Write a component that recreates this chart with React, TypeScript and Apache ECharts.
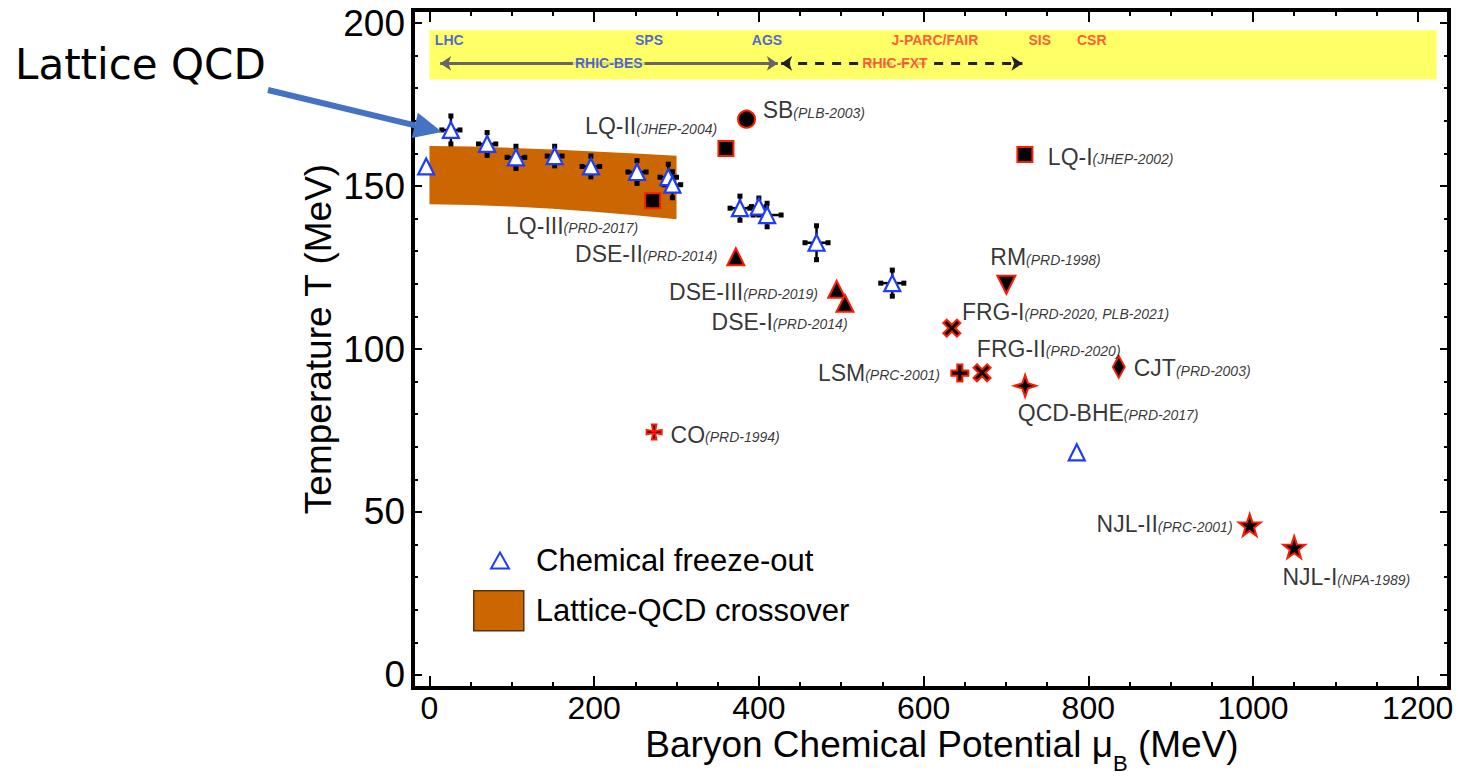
import { useEffect, useRef } from 'react';
import * as echarts from 'echarts';

const FONT = "'Liberation Sans', Arial, Helvetica, sans-serif";

// ---------- axes ----------
const X_MIN = -20;
const X_MAX = 1238;
const Y_MIN = -4;
const Y_MAX = 204;
const xMajorTicks = [0, 200, 400, 600, 800, 1000, 1200];
const xMinorTicks = [50, 100, 150, 250, 300, 350, 450, 500, 550, 650, 700, 750, 850, 900, 950, 1050, 1100, 1150];
const yMajorTicks = [0, 50, 100, 150, 200];
const yMinorTicks = [10, 20, 30, 40, 60, 70, 80, 90, 110, 120, 130, 140, 160, 170, 180, 190];

// ---------- chemical freeze-out ----------
const fzMu = [-4, 26, 70, 105, 152, 196, 252, 290, 295, 377, 400, 410, 470, 562, 786];
const fzT = [156, 167.2, 162.9, 158.8, 159.2, 156.0, 154.3, 152.7, 150.4, 143.2, 143.7, 141.1, 132.6, 120.2, 68.3];
const fzErrMu = [0, 11, 10.5, 10.7, 9, 10.7, 11, 10, 10, 12, 9, 17, 14, 14, 0];
const fzErrT = [0, 4.3, 3.5, 3.4, 3, 3.2, 3.5, 4, 4, 3.7, 2.6, 3.6, 5.2, 4, 0];

// ---------- lattice QCD crossover band ----------
const bandMu = [0, 50, 100, 150, 200, 250, 300];
const bandUpper = [162.3, 162.1, 161.7, 161.2, 160.6, 160.0, 159.3];
const bandLower = [144.4, 144.2, 143.7, 143.0, 142.1, 141.0, 139.8];

// ---------- model predictions ----------
const modelNames = ['LQ-II', 'LQ-III', 'LQ-I', 'SB', 'DSE-II', 'DSE-III', 'DSE-I', 'RM', 'FRG-I', 'FRG-II', 'LSM', 'QCD-BHE', 'CJT', 'CO', 'NJL-II', 'NJL-I'];
const modelRefs = ['JHEP-2004', 'PRD-2017', 'JHEP-2002', 'PLB-2003', 'PRD-2014', 'PRD-2019', 'PRD-2014', 'PRD-1998', 'PRD-2020, PLB-2021', 'PRD-2020', 'PRC-2001', 'PRD-2017', 'PRD-2003', 'PRD-1994', 'PRC-2001', 'NPA-1989'];
const modelMu = [360, 271, 723, 385, 372, 494.5, 504.5, 700.5, 634.3, 671, 644, 723.3, 837, 272.8, 996, 1050];
const modelT = [161.5, 145.5, 159.7, 170.5, 128.3, 118.3, 114, 119.7, 106.4, 92.7, 92.6, 88.7, 94.5, 74.5, 46, 39.2];
const modelShape = ['square', 'square', 'square', 'circle', 'triangle', 'triangle', 'triangle', 'down', 'cross', 'cross', 'plus', 'sparkle', 'diamond', 'pattee', 'star', 'star'];
const labelMu = [189, 93, 750.9, 404.6, 176.8, 290.9, 342.5, 681, 646.5, 664.7, 471.7, 714.4, 855.2, 292.7, 810, 1035.7];
const labelT = [168.3, 137.8, 159.0, 173.2, 129.2, 117.5, 108.3, 128.2, 111.5, 100.1, 92.7, 80.5, 94.1, 73.7, 46.2, 29.9];

// ---------- facilities banner ----------
const bannerMu = [0, 1223];
const bannerT = [182.7, 197.8];
const facilityNames = ['LHC', 'SPS', 'AGS', 'J-PARC/FAIR', 'SIS', 'CSR'];
const facilityMu = [24, 266.6, 409.8, 613.7, 741.1, 804.2];
const facilityGroup = ['bes', 'bes', 'bes', 'fxt', 'fxt', 'fxt'];
const facilityT = 194.9;
const programNames = ['RHIC-BES', 'RHIC-FXT'];
const programGroup = ['bes', 'fxt'];
const programStart = [13, 427];
const programEnd = [423, 720];
const programLabelMu = [217.7, 565.2];
const programT = 187.6;

const GROUP_COLOR: Record<string, string> = { bes: '#1f3fe6', fxt: '#ff3030' };

const SHAPES: Record<string, { symbol: string; size: number | number[]; rotate?: number }> = {
  square: { symbol: 'rect', size: 15 },
  circle: { symbol: 'circle', size: 17 },
  triangle: { symbol: 'triangle', size: 17 },
  down: { symbol: 'triangle', size: 18, rotate: 180 },
  cross: { symbol: 'path://M4,0 L10,6 L16,0 L20,4 L14,10 L20,16 L16,20 L10,14 L4,20 L0,16 L6,10 L0,4 Z', size: 17 },
  plus: { symbol: 'path://M7,0 H13 V7 H20 V13 H13 V20 H7 V13 H0 V7 H7 Z', size: 17 },
  sparkle: { symbol: 'path://M10,0 L12.5,7.5 L20,10 L12.5,12.5 L10,20 L7.5,12.5 L0,10 L7.5,7.5 Z', size: 22 },
  diamond: { symbol: 'diamond', size: [12, 22] },
  pattee: { symbol: 'path://M7,0 H13 L11.2,8.8 L20,7 V13 L11.2,11.2 L13,20 H7 L8.8,11.2 L0,13 V7 L8.8,8.8 Z', size: 15 },
  star: { symbol: 'path://M10,0 L12.35,6.76 L19.51,6.91 L13.8,11.24 L15.88,18.09 L10,14 L4.12,18.09 L6.2,11.24 L0.49,6.91 L7.65,6.76 Z', size: 22 },
};

function buildOption(): any {
  const tickLine = { color: '#000', width: 2 };
  const xBase = { type: 'value', min: X_MIN, max: X_MAX, splitLine: { show: false }, axisLine: { show: false, onZero: false } };
  const yBase = { type: 'value', min: Y_MIN, max: Y_MAX, splitLine: { show: false }, axisLine: { show: false, onZero: false } };

  const xAxis = [
    { ...xBase, position: 'bottom', axisLabel: { customValues: xMajorTicks, formatter: (v: number) => String(v), fontSize: 32, fontFamily: FONT, color: '#000', margin: 4 }, axisTick: { customValues: xMajorTicks, inside: true, length: 12, lineStyle: tickLine } },
    { ...xBase, position: 'bottom', axisLabel: { show: false }, axisTick: { customValues: xMinorTicks, inside: true, length: 6, lineStyle: tickLine } },
    { ...xBase, position: 'top', axisLabel: { show: false }, axisTick: { customValues: xMajorTicks, inside: true, length: 12, lineStyle: tickLine } },
    { ...xBase, position: 'top', axisLabel: { show: false }, axisTick: { customValues: xMinorTicks, inside: true, length: 6, lineStyle: tickLine } },
  ];
  const yAxis = [
    { ...yBase, position: 'left', axisLabel: { customValues: yMajorTicks, formatter: (v: number) => String(v), fontSize: 37, fontFamily: FONT, color: '#000', margin: 8 }, axisTick: { customValues: yMajorTicks, inside: true, length: 9, lineStyle: tickLine } },
    { ...yBase, position: 'left', axisLabel: { show: false }, axisTick: { customValues: yMinorTicks, inside: true, length: 5, lineStyle: tickLine } },
    { ...yBase, position: 'right', axisLabel: { show: false }, axisTick: { customValues: yMajorTicks, inside: true, length: 9, lineStyle: tickLine } },
    { ...yBase, position: 'right', axisLabel: { show: false }, axisTick: { customValues: yMinorTicks, inside: true, length: 5, lineStyle: tickLine } },
  ];

  const modelData = modelNames.map((n, i) => {
    const s = SHAPES[modelShape[i]];
    return { name: n, value: [modelMu[i], modelT[i]], symbol: s.symbol, symbolSize: s.size, symbolRotate: s.rotate || 0 };
  });

  const errData = fzMu
    .map((m, i) => [m, fzT[i], fzErrMu[i], fzErrT[i]])
    .filter((d) => d[2] > 0 || d[3] > 0);

  const facilityData = facilityNames.map((n, i) => ({
    name: n,
    value: [facilityMu[i], facilityT],
    label: { color: GROUP_COLOR[facilityGroup[i]] },
  }));
  const programData = programNames.map((n, i) => ({
    name: n,
    value: [programLabelMu[i], programT],
    label: { color: GROUP_COLOR[programGroup[i]] },
  }));

  const labelData = modelNames.map((n, i) => ({ name: n, value: [labelMu[i], labelT[i]] }));

  const bannerLabel = {
    show: true, position: 'inside', formatter: (p: any) => p.name,
    fontSize: 14, fontWeight: 'bold', fontFamily: FONT,
  };

  return {
    animation: false,
    backgroundColor: '#ffffff',
    grid: { left: 413, top: 10, width: 1036, height: 678, show: true, borderColor: '#000', borderWidth: 4, backgroundColor: 'transparent' },
    xAxis,
    yAxis,
    legend: [
      {
        data: ['Chemical freeze-out'],
        left: 490, top: 545, padding: 0, itemWidth: 18, itemHeight: 16, selectedMode: false,
        textStyle: { fontSize: 31, fontFamily: FONT, color: '#000', padding: [0, 0, 0, 22] },
      },
      {
        data: [{ name: 'Lattice-QCD crossover', icon: 'rect', itemStyle: { color: '#CC6600', borderColor: '#553311', borderWidth: 1.5 } }],
        left: 473, top: 590, padding: 0, itemWidth: 50, itemHeight: 40, selectedMode: false,
        textStyle: { fontSize: 31, fontFamily: FONT, color: '#000', padding: [0, 0, 0, 7] },
      },
    ],
    graphic: [
      { type: 'text', x: 15, y: 64, z: 100, style: { text: 'Lattice QCD', fontSize: 42, fontFamily: "'DejaVu Sans', sans-serif", fill: '#000', align: 'left', verticalAlign: 'middle' } },
      { type: 'line', z: 100, shape: { x1: 268, y1: 90, x2: 415, y2: 125.4 }, style: { stroke: '#4472C4', lineWidth: 6 } },
      { type: 'polygon', z: 100, shape: { points: [[442, 132], [411.7, 138], [417.9, 112.8]] }, style: { fill: '#4472C4' } },
      { type: 'text', x: 318, y: 339, rotation: Math.PI / 2, z: 100, style: { text: 'Temperature T (MeV)', fontSize: 37, fontFamily: FONT, fill: '#000', align: 'center', verticalAlign: 'middle' } },
      {
        type: 'text', x: 942, y: 726, z: 100,
        style: {
          text: '{t|Baryon Chemical Potential μ}{s|B}{t| (MeV)}',
          align: 'center', verticalAlign: 'top', fill: '#000',
          rich: {
            t: { fontSize: 37, fontFamily: FONT, lineHeight: 34, verticalAlign: 'top', fill: '#000' },
            s: { fontSize: 22, fontFamily: FONT, lineHeight: 20, verticalAlign: 'top', padding: [26, 0, 0, 0], fill: '#000' },
          },
        },
      },
    ],
    series: [
      {
        type: 'custom',
        name: 'Lattice-QCD crossover',
        coordinateSystem: 'cartesian2d',
        data: [[bandMu[0], bandLower[0]]],
        itemStyle: { color: '#CC6600' },
        z: 1,
        silent: true,
        renderItem: (_params: any, api: any) => {
          const up = bandMu.map((m, i) => api.coord([m, bandUpper[i]]));
          const lo = bandMu.map((m, i) => api.coord([m, bandLower[i]])).reverse();
          return { type: 'polygon', shape: { points: [...up, ...lo] }, style: { fill: '#CC6600' } };
        },
      },
      {
        type: 'scatter',
        name: 'banner',
        symbolSize: 0,
        z: 2,
        silent: true,
        data: facilityData,
        label: bannerLabel,
        markArea: {
          silent: true,
          itemStyle: { color: '#FFFF66' },
          data: [[{ coord: [bannerMu[0], bannerT[0]] }, { coord: [bannerMu[1], bannerT[1]] }]],
        },
        markLine: {
          silent: true,
          symbol: ['arrow', 'arrow'],
          symbolSize: [11, 11],
          label: { show: false },
          data: [
            [{ coord: [programStart[0], programT], lineStyle: { color: '#666', width: 3, type: 'solid' } }, { coord: [programEnd[0], programT] }],
            [{ coord: [programStart[1], programT], lineStyle: { color: '#222', width: 3, type: [9, 8] } }, { coord: [programEnd[1], programT] }],
          ],
        },
      },
      {
        type: 'scatter',
        name: 'programs',
        symbolSize: 0,
        z: 6,
        silent: true,
        data: programData,
        label: { ...bannerLabel, backgroundColor: '#FFFF66', padding: [1, 2] },
      },
      {
        type: 'custom',
        name: 'errors',
        coordinateSystem: 'cartesian2d',
        encode: { x: 0, y: 1 },
        data: errData,
        z: 3,
        silent: true,
        renderItem: (_params: any, api: any) => {
          const x = api.value(0), y = api.value(1), dx = api.value(2), dy = api.value(3);
          const l = api.coord([x - dx, y]);
          const r = api.coord([x + dx, y]);
          const t = api.coord([x, y + dy]);
          const b = api.coord([x, y - dy]);
          const cap = 5;
          const ls = { stroke: '#000', lineWidth: 2.5 };
          return {
            type: 'group',
            children: [
              { type: 'line', shape: { x1: l[0], y1: l[1], x2: r[0], y2: r[1] }, style: ls },
              { type: 'line', shape: { x1: t[0], y1: t[1], x2: b[0], y2: b[1] }, style: ls },
              ...[l, r, t, b].map((p: number[]) => ({ type: 'rect', shape: { x: p[0] - cap / 2, y: p[1] - cap / 2, width: cap, height: cap }, style: { fill: '#000' } })),
            ],
          };
        },
      },
      {
        type: 'scatter',
        name: 'Chemical freeze-out',
        symbol: 'triangle',
        symbolSize: 16,
        z: 4,
        itemStyle: { color: '#ffffff', borderColor: '#1e3cff', borderWidth: 2.2, opacity: 1 },
        data: fzMu.map((m, i) => [m, fzT[i]]),
      },
      {
        type: 'scatter',
        name: 'models',
        z: 4,
        itemStyle: { color: '#000', borderColor: '#ff1a00', borderWidth: 2, opacity: 1 },
        data: modelData,
      },
      {
        type: 'scatter',
        name: 'modelLabels',
        symbolSize: 0,
        z: 5,
        silent: true,
        data: labelData,
        label: {
          show: true,
          position: 'right',
          distance: 0,
          formatter: (p: any) => `{m|${modelNames[p.dataIndex]}}{r|(${modelRefs[p.dataIndex]})}`,
          rich: {
            m: { fontSize: 23, fontFamily: FONT, color: '#000' },
            r: { fontSize: 14, fontStyle: 'italic', fontFamily: FONT, color: '#000', padding: [5, 0, 0, 0] },
          },
        },
      },
    ],
  };
}

export default function App() {
  const ref = useRef<HTMLDivElement>(null);
  useEffect(() => {
    const chart = echarts.init(ref.current!, null, { renderer: 'svg' });
    chart.setOption(buildOption());
    return () => chart.dispose();
  }, []);
  return (
    <div
      ref={ref}
      style={{ position: 'absolute', left: 0, top: 0, width: 1458, height: 778, background: '#fff' }}
    />
  );
}
